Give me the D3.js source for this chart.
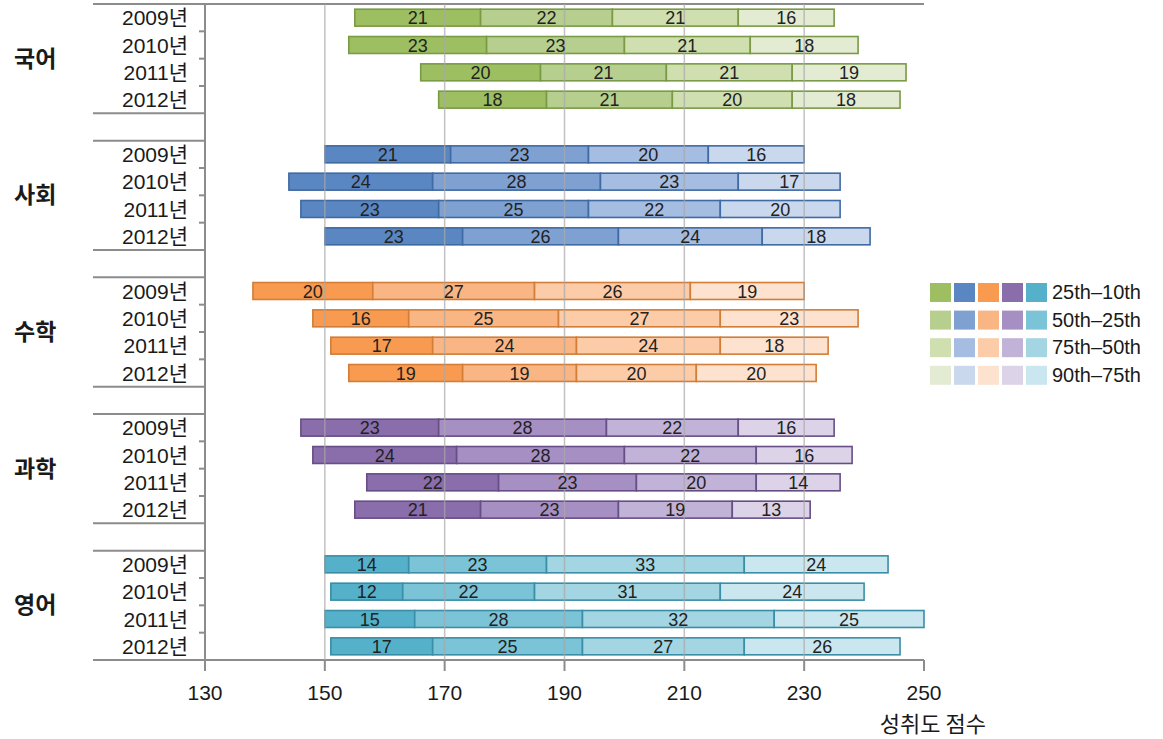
<!DOCTYPE html>
<html><head><meta charset="utf-8">
<script src="https://cdn.jsdelivr.net/npm/d3@7"></script>
<style>
html,body{margin:0;padding:0;background:#fff;}
svg{display:block;}
text{font-family:"Liberation Sans","Noto Sans CJK KR",sans-serif;fill:#1a1a1a;}
</style></head>
<body>
<svg id="chart" width="1163" height="739"></svg>
<script>
const subjects = ["국어","사회","수학","과학","영어"];
const years = ["2009년","2010년","2011년","2012년"];
const bandLabels = ["25th\u201310th","50th\u201325th","75th\u201350th","90th\u201375th"];
const xTicks = [130,150,170,190,210,230,250];
const axisTitle = "성취도 점수";
// 10th percentile (bar start) per subject/year
const starts = [
  [155,154,166,169],
  [150,144,146,150],
  [138,148,151,154],
  [146,148,157,155],
  [150,151,150,151]
];
// segment widths: 25th-10th, 50th-25th, 75th-50th, 90th-75th
const seg국어 = [[21,22,21,16],[23,23,21,18],[20,21,21,19],[18,21,20,18]];
const seg사회 = [[21,23,20,16],[24,28,23,17],[23,25,22,20],[23,26,24,18]];
const seg수학 = [[20,27,26,19],[16,25,27,23],[17,24,24,18],[19,19,20,20]];
const seg과학 = [[23,28,22,16],[24,28,22,16],[22,23,20,14],[21,23,19,13]];
const seg영어 = [[14,23,33,24],[12,22,31,24],[15,28,32,25],[17,25,27,26]];
const segments = [seg국어, seg사회, seg수학, seg과학, seg영어];

const fills = [
  ["#9dbf62","#b7cf8e","#cfdfb0","#e3ecd3"],
  ["#5a87c2","#7fa1d1","#a5bde1","#cad8ed"],
  ["#f89b50","#f9b583","#fccca8","#fde3cf"],
  ["#8a6dab","#a690c3","#c1b2d7","#dcd3e8"],
  ["#55b1c9","#7bc3d6","#a3d5e3","#cae7ef"]
];
const borders = ["#7a9a45","#3f6aa3","#d27d38","#674e86","#3a8ea6"];

const svg = d3.select("#chart");
const x = d3.scaleLinear().domain([130,250]).range([205,924]);
const nRows = subjects.length*5 - 1;
const y = d3.scaleBand().domain(d3.range(nRows)).range([4,660]).paddingInner(0.38).paddingOuter(0.19);
const step = y.step();
const rowTop = i => y(i) - y.paddingInner()*step/2;

const bars = [];
subjects.forEach((s,si)=>{
  years.forEach((yr,yi)=>{
    let cur = starts[si][yi];
    segments[si][yi].forEach((w,k)=>{
      bars.push({si, row: si*5+yi, x0: cur, x1: cur+w, w, k});
      cur += w;
    });
  });
});

const gAxis = svg.append("g");
const lineColor = "#8c8c8c";
gAxis.append("line").attr("x1",93).attr("x2",924).attr("y1",4).attr("y2",4).attr("stroke",lineColor).attr("stroke-width",2);
gAxis.append("line").attr("x1",93).attr("x2",924).attr("y1",660).attr("y2",660).attr("stroke",lineColor).attr("stroke-width",2);
subjects.forEach((s,si)=>{
  if(si>0){
    const yTop = rowTop(si*5);
    const yGapTop = rowTop(si*5-1);
    [yTop,yGapTop].forEach(yy=>{
      gAxis.append("line").attr("x1",93).attr("x2",205).attr("y1",yy).attr("y2",yy).attr("stroke",lineColor).attr("stroke-width",2);
    });
  }
  for(let yi=1; yi<4; yi++){
    const yy = rowTop(si*5+yi);
    gAxis.append("line").attr("x1",199).attr("x2",205).attr("y1",yy).attr("y2",yy).attr("stroke",lineColor).attr("stroke-width",2);
  }
});
gAxis.append("line").attr("x1",205).attr("x2",205).attr("y1",4).attr("y2",660).attr("stroke",lineColor).attr("stroke-width",2);

xTicks.forEach(t=>{
  gAxis.append("line").attr("x1",x(t)).attr("x2",x(t)).attr("y1",660).attr("y2",671).attr("stroke",lineColor).attr("stroke-width",2);
  gAxis.append("text").attr("x",x(t)).attr("y",700).attr("text-anchor","middle")
    .style("font-size","21px").text(t);
});
svg.append("text").attr("x",986).attr("y",732).attr("text-anchor","end")
  .style("font-family","'Noto Sans CJK KR',sans-serif").style("font-size","22px").text(axisTitle);

svg.append("g").selectAll("rect").data(bars).join("rect")
  .attr("x",d=>x(d.x0)).attr("y",d=>y(d.row))
  .attr("width",d=>x(d.x1)-x(d.x0)).attr("height",y.bandwidth())
  .attr("fill",d=>fills[d.si][d.k]).attr("stroke",d=>borders[d.si]).attr("stroke-width",1.6);

svg.append("g").selectAll("line").data(xTicks.filter(t=>t>130 && t<250)).join("line")
  .attr("x1",d=>x(d)).attr("x2",d=>x(d)).attr("y1",4).attr("y2",660)
  .attr("stroke","#a8a8a8").attr("stroke-opacity",0.7).attr("stroke-width",1.5);

svg.append("g").selectAll("text").data(bars).join("text")
  .attr("x",d=>(x(d.x0)+x(d.x1))/2).attr("y",d=>y(d.row)+y.bandwidth()/2+6.5)
  .attr("text-anchor","middle").style("font-size","18px").style("fill","#222")
  .text(d=>d.w);

subjects.forEach((s,si)=>{
  years.forEach((yr,yi)=>{
    svg.append("text").attr("x",188).attr("y",y(si*5+yi)+y.bandwidth()/2+7.5)
      .attr("text-anchor","end").style("font-size","21px").text(yr);
  });
  const gMid = rowTop(si*5) + 2*step;
  svg.append("text").attr("x",14).attr("y",gMid+8)
    .style("font-family","'Noto Sans CJK KR',sans-serif").style("font-weight","bold").style("font-size","23px").text(s);
});

const lg = svg.append("g");
bandLabels.forEach((lab,k)=>{
  const ly = 283 + k*27.6;
  subjects.forEach((s,si)=>{
    lg.append("rect").attr("x",930+si*24).attr("y",ly).attr("width",21).attr("height",19)
      .attr("fill",fills[si][k]);
  });
  lg.append("text").attr("x",1052).attr("y",ly+16).style("font-size","20px").text(lab);
});
</script>
</body></html>
